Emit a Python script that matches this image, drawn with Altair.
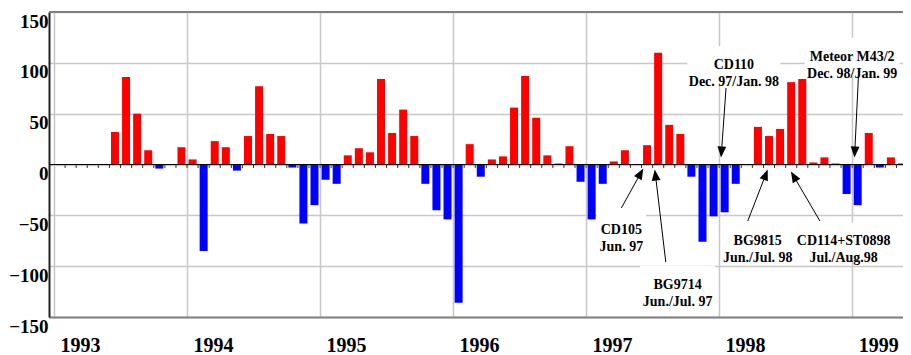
import math
import altair as alt
import pandas as pd

# ---------------- data (monthly values, Jan..Dec; None = no data) ----------------
years = [1993, 1994, 1995, 1996, 1997, 1998, 1999]
v1993 = [None, None, None, None, None, 32, 86, 50, 14, -4, None, 17]
v1994 = [5, -85, 23, 17, -6, 28, 77, 30, 28, -3, -58, -40]
v1995 = [-15, -19, 9, 16, 12, 84, 31, 54, 28, -19, -45, -54]
v1996 = [-136, 20, -12, 5, 8, 56, 87, 46, 9, 1, 18, -17]
v1997 = [-54, -19, 3, 14, None, 19, 110, 39, 30, -12, -76, -51]
v1998 = [-47, -19, None, 37, 28, 35, 81, 84, 2, 7, 1, -29]
v1999 = [-40, 31, -3, 7, 1]
year_values = [v1993, v1994, v1995, v1996, v1997, v1998, v1999]

y_ticks = [-150, -100, -50, 0, 50, 100, 150]

# annotations (data coordinates: x in years, y in chart units)
ann_labels = ["CD105\nJun. 97", "BG9714\nJun./Jul. 97", "CD110\nDec. 97/Jan. 98",
              "BG9815\nJun./Jul. 98", "CD114+ST0898\nJul./Aug.98",
              "Meteor M43/2\nDec. 98/Jan. 99"]
ann_text_x = [1997.265, 1997.688, 1998.111, 1998.290, 1998.936, 1999.000]
ann_text_y = [-64.4, -118.5, 97.9, -75.7, -75.7, 106.0]
ann_tail_x = [1997.265, 1997.599, 1998.052, 1998.215, 1998.758, 1999.048]
ann_tail_y = [-42.8, -95.9, 75.2, -55.6, -55.6, 88.0]
ann_tip_x = [1997.428, 1997.517, 1998.015, 1998.364, 1998.542, 1999.018]
ann_tip_y = [-4.4, -5.4, 7.4, -5.4, -7.4, 7.4]
ann_box_w = [50, 76, 94, 74, 90, 96]   # px
ann_box_h = 38                         # px

# ---------------- layout ----------------
PXY = 134.6                       # px per year
W, H = 854, 305
X0 = 1993.0
X1 = X0 + W / PXY
Y0, Y1 = -150, 150
PXU = H / (Y1 - Y0)
FONT = "Liberation Serif"

rows = []
for yr, vals in zip(years, year_values):
    for m, v in enumerate(vals):
        if v is None:
            continue
        rows.append({"t": yr + (m + 0.5) / 12, "v": v, "sign": "pos" if v >= 0 else "neg"})
bars_df = pd.DataFrame(rows)
n_months = sum(len(v) for v in year_values)
ticks_df = pd.DataFrame({"t": [X0 + k / 12 for k in range(1, n_months + 1)]})

ann_rows = []
for i, lab in enumerate(ann_labels):
    dxp = (ann_tip_x[i] - ann_tail_x[i]) * PXY
    dyp = -(ann_tip_y[i] - ann_tail_y[i]) * PXU
    L = math.hypot(dxp, dyp)
    ux, uy = dxp / L, dyp / L
    hx = ann_tip_x[i] - 5 * ux / PXY
    hy = ann_tip_y[i] + 5 * uy / PXU
    ang = math.degrees(math.atan2(dxp, -dyp)) % 360
    ann_rows.append({
        "label": lab,
        "tx": ann_text_x[i], "ty": ann_text_y[i],
        "x1": ann_tail_x[i], "y1": ann_tail_y[i],
        "hx": hx, "hy": hy, "ang": ang,
        "bx1": ann_text_x[i] - ann_box_w[i] / 2 / PXY,
        "bx2": ann_text_x[i] + ann_box_w[i] / 2 / PXY,
        "by1": ann_text_y[i] - ann_box_h / 2 / PXU,
        "by2": ann_text_y[i] + ann_box_h / 2 / PXU,
    })
ann_df = pd.DataFrame(ann_rows)

xscale = alt.Scale(domain=[X0, X1], nice=False, zero=False)
yscale = alt.Scale(domain=[Y0, Y1], nice=False, zero=False)

xaxis = alt.Axis(values=years, format="d", title=None, ticks=False, grid=True,
                 gridColor="#c8c8c8", gridWidth=1.5, domainColor="#808080",
                 domainWidth=2, labelFont=FONT, labelFontWeight="bold",
                 labelFontSize=20, labelColor="black", labelOffset=26,
                 labelPadding=18, labelFlush=False, labelOverlap=False)
yaxis = alt.Axis(values=y_ticks, title=None, ticks=False, grid=True,
                 gridColor="#c8c8c8", gridWidth=1.5, domainColor="#222222",
                 domainWidth=2, labelFont=FONT, labelFontWeight="bold",
                 labelFontSize=19, labelColor="black", labelBaseline="top",
                 labelAlign="right", labelPadding=1, labelFlush=False,
                 labelOverlap=False)


def X(f):
    return alt.X(f, type="quantitative", scale=xscale, axis=xaxis)


def Y(f):
    return alt.Y(f, type="quantitative", scale=yscale, axis=yaxis)


bars = alt.Chart(bars_df).mark_bar(size=8).encode(
    x=X("t"),
    y=Y("v"),
    y2=alt.datum(0),
    color=alt.Color("sign:N", scale=alt.Scale(domain=["pos", "neg"],
                                              range=["#ff0000", "#0000ff"]),
                    legend=None),
)

top_line = alt.Chart(bars_df).mark_rule(color="#808080", strokeWidth=1.5).encode(
    y=alt.datum(150)
)

zero = alt.Chart(bars_df).mark_rule(color="black", strokeWidth=1).encode(
    y=alt.datum(0)
)

ticks = alt.Chart(ticks_df).mark_rule(color="#333333", strokeWidth=1).encode(
    x=X("t"),
    y=alt.datum(0),
    y2=alt.datum(-3.5),
)

boxes = alt.Chart(ann_df).mark_rect(fill="white").encode(
    x=X("bx1"), x2="bx2:Q",
    y=Y("by1"), y2="by2:Q",
)

arrows = alt.Chart(ann_df).mark_rule(color="black", strokeWidth=1).encode(
    x=X("x1"), x2="hx:Q",
    y=Y("y1"), y2="hy:Q",
)

heads = alt.Chart(ann_df).mark_point(
    shape="M0,-1L0.8,1L-0.8,1Z", filled=True, color="black", size=121, opacity=1
).encode(
    x=X("hx"),
    y=Y("hy"),
    angle=alt.Angle("ang:Q", scale=None),
)

texts = alt.Chart(ann_df).mark_text(
    font=FONT, fontWeight="bold", fontSize=14, lineBreak="\n", lineHeight=17,
    align="center", baseline="middle", color="black"
).encode(
    x=X("tx"),
    y=Y("ty"),
    text="label:N",
)

chart = alt.layer(bars, top_line, zero, ticks, boxes, arrows, heads, texts).properties(
    width=W, height=H,
    autosize=alt.AutoSizeParams(type="none"),
    padding={"left": 41, "top": 4, "right": 0, "bottom": 38},
).configure_view(stroke=None)

chart.save("out.html", embed_options={"renderer": "svg", "actions": False})
